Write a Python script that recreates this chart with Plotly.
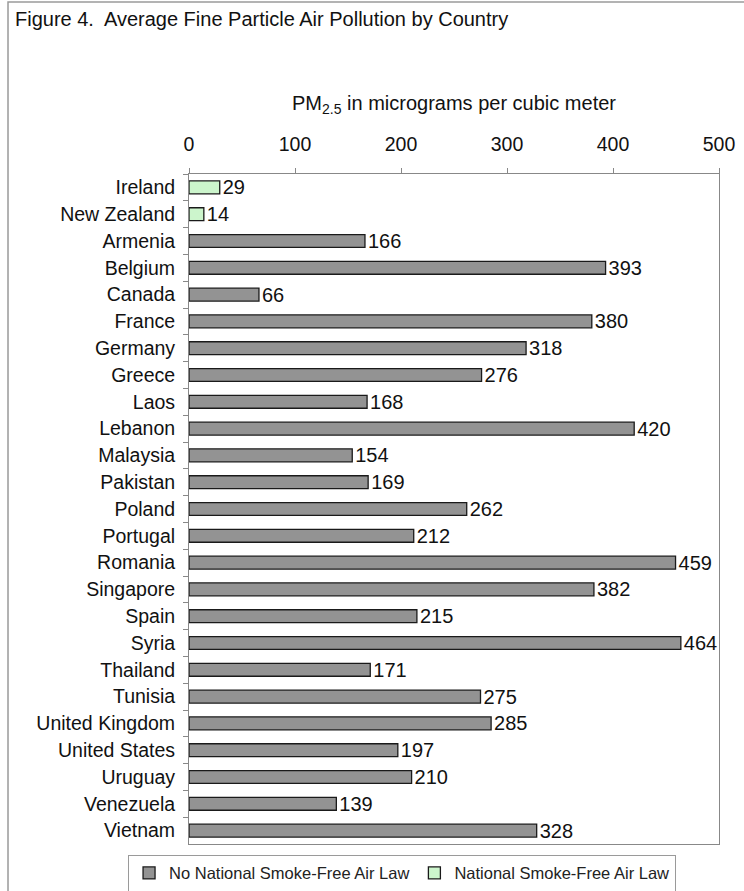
import plotly.graph_objects as go

# PM2.5 readings by country (micrograms per cubic meter)
countries = ["Ireland", "New Zealand", "Armenia", "Belgium", "Canada", "France",
             "Germany", "Greece", "Laos", "Lebanon", "Malaysia", "Pakistan",
             "Poland", "Portugal", "Romania", "Singapore", "Spain", "Syria",
             "Thailand", "Tunisia", "United Kingdom", "United States", "Uruguay",
             "Venezuela", "Vietnam"]
pm25 = [29, 14, 166, 393, 66, 380, 318, 276, 168, 420, 154, 169, 262, 212,
        459, 382, 215, 464, 171, 275, 285, 197, 210, 139, 328]
smoke_free_law = ["Ireland", "New Zealand"]

no_law_x = [v if c not in smoke_free_law else None for c, v in zip(countries, pm25)]
law_x = [v if c in smoke_free_law else None for c, v in zip(countries, pm25)]

FONT = "Arial, Liberation Sans, sans-serif"
BAR_W = 0.48


def bar_trace(name, values, fill):
    return go.Bar(
        name=name, y=countries, x=values, orientation="h", width=BAR_W,
        marker=dict(color=fill, line=dict(color="#1a1a1a", width=1.3)),
        text=[str(v) if v is not None else "" for v in values],
        textposition="outside", textfont=dict(size=20, color="#111"),
        constraintext="none", cliponaxis=False,
    )


fig = go.Figure()
fig.add_trace(bar_trace("No National Smoke-Free Air Law", no_law_x, "#939393"))
fig.add_trace(bar_trace("National Smoke-Free Air Law", law_x, "#ccf5cc"))

fig.update_layout(
    width=744, height=891,
    margin=dict(l=189, r=25, t=174, b=47, autoexpand=False),
    barmode="overlay",
    paper_bgcolor="white", plot_bgcolor="white",
    font=dict(family=FONT, size=19, color="#111"),
    showlegend=True,
    legend=dict(orientation="h", x=-0.115, xanchor="left", y=-0.016, yanchor="top",
                bordercolor="#9a9a9a", borderwidth=1, bgcolor="white",
                font=dict(size=16.5, color="#222"), traceorder="normal",
                itemwidth=30, tracegroupgap=0),
    annotations=[
        dict(text="Figure 4.  Average Fine Particle Air Pollution by Country",
             xref="paper", yref="paper", x=-0.333, y=1.2315, xanchor="left", yanchor="middle",
             showarrow=False, font=dict(size=20, color="#111")),
        dict(text="PM<sub>2.5</sub> in micrograms per cubic meter",
             xref="paper", yref="paper", x=0.5, y=1.104, xanchor="center", yanchor="middle",
             showarrow=False, font=dict(size=20, color="#111")),
    ],
    shapes=[
        dict(type="rect", xref="paper", yref="paper", x0=-0.3415, x1=1.1,
             y0=-0.2, y1=1.2567, line=dict(color="#9a9a9a", width=1.5)),
    ],
)
fig.update_xaxes(side="top", range=[0, 500], tickvals=[0, 100, 200, 300, 400, 500],
                 ticks="outside", ticklen=5, tickcolor="#888", showgrid=False,
                 showline=True, linecolor="#888", linewidth=1, mirror=True,
                 tickfont=dict(size=19.5), zeroline=False, ticklabelstandoff=9)
fig.update_yaxes(autorange="reversed", ticks="outside", ticklen=5, tickcolor="#888",
                 tickson="boundaries", showgrid=False, showline=True, linecolor="#888",
                 linewidth=1, mirror=True, tickfont=dict(size=19.5), ticklabelstandoff=9)

fig.write_html("out.html")
